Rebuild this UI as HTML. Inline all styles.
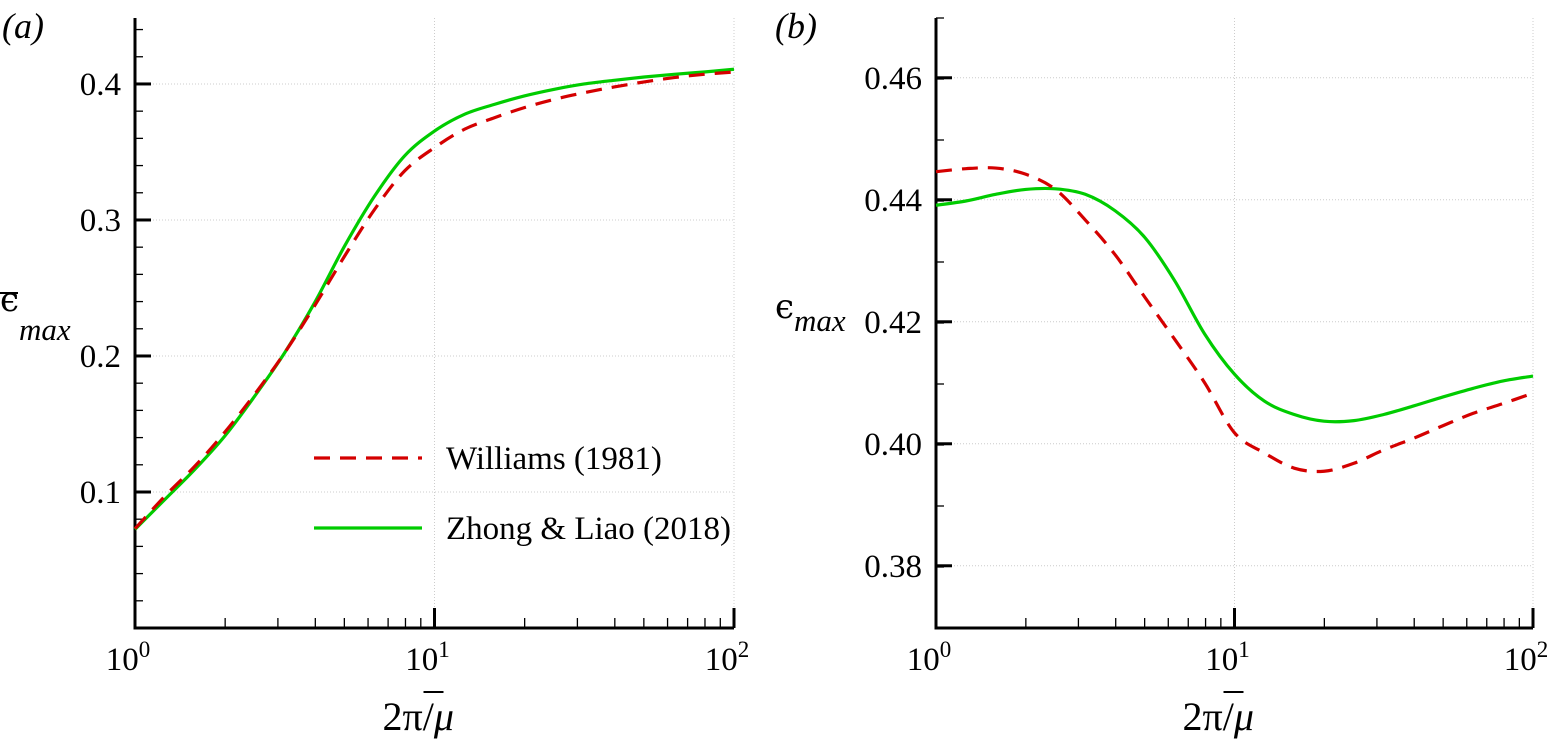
<!DOCTYPE html>
<html><head><meta charset="utf-8">
<style>
body{margin:0;background:#fff;}
svg{display:block;font-family:"Liberation Serif",serif;}
</style></head>
<body>
<svg id="chart" width="1555" height="742" viewBox="0 0 1555 742"></svg>
<script>
const xsA = [1, 1.259, 1.585, 1.995, 2.512, 3.162, 3.981, 5.012, 6.310, 7.943, 10, 12.59, 15.85, 19.95, 25.12, 31.62, 39.81, 50.12, 63.10, 79.43, 100];
const greenA = [0.0725, 0.0946, 0.1167, 0.1412, 0.1706, 0.2025, 0.2393, 0.2809, 0.3176, 0.3471, 0.3654, 0.3777, 0.3850, 0.3912, 0.3961, 0.4000, 0.4027, 0.4051, 0.4071, 0.4088, 0.4108];
const redA   = [0.0730, 0.0970, 0.1190, 0.1440, 0.1720, 0.2025, 0.2370, 0.2735, 0.3078, 0.3360, 0.3532, 0.3667, 0.3752, 0.3826, 0.3887, 0.3936, 0.3978, 0.4015, 0.4047, 0.4071, 0.4088];
const xsB = xsA;
const greenB = [0.4391, 0.4398, 0.4409, 0.4417, 0.4418, 0.4409, 0.4382, 0.4338, 0.4267, 0.4180, 0.4114, 0.4070, 0.4048, 0.4037, 0.4038, 0.4048, 0.4062, 0.4077, 0.4091, 0.4103, 0.4111];
const redB   = [0.4446, 0.4451, 0.4452, 0.4442, 0.4417, 0.4367, 0.4310, 0.4240, 0.4171, 0.4100, 0.4018, 0.3985, 0.3960, 0.3955, 0.3968, 0.3990, 0.4009, 0.4030, 0.4050, 0.4066, 0.4083];
const yTicksA = [0.1, 0.2, 0.3, 0.4];
const yTicksB = [0.38, 0.40, 0.42, 0.44, 0.46];
const xTickLabels = ["0", "1", "2"];

const NS = "http://www.w3.org/2000/svg";
const svg = document.getElementById("chart");
function el(tag, attrs, parent){const e=document.createElementNS(NS,tag);for(const k in attrs)e.setAttribute(k,attrs[k]);(parent||svg).appendChild(e);return e;}

function panel(cfg){
  const g = el("g",{});
  
  
  const X = v => cfg.x0 + Math.log10(v)/2*(cfg.x1-cfg.x0);
  const Y = v => cfg.yb - (v-cfg.ymin)/(cfg.ymax-cfg.ymin)*(cfg.yb-cfg.yt);
  cfg.yticks.forEach(t=>{
    const l=el("line",{x1:cfg.x0,x2:cfg.x1,y1:Y(t),y2:Y(t),stroke:"#ccc","stroke-width":1,"stroke-dasharray":"1,2"},g);
    
    
  });
  [10,100].forEach(v=>{
    const l=el("line",{x1:X(v),x2:X(v),y1:cfg.yt,y2:cfg.yb,stroke:"#ccc","stroke-width":1,"stroke-dasharray":"1,2"},g);
    
    
  });
  for(let v=cfg.ymin; v<=cfg.ymax+1e-9; v+=cfg.minor){
    const t=el("line",{x1:cfg.x0,x2:cfg.x0+8,y1:Y(v),y2:Y(v),stroke:"#000","stroke-width":1.3},g);
    
    
  }
  cfg.yticks.forEach(t=>{
    const tk=el("line",{x1:cfg.x0,x2:cfg.x0+16,y1:Y(t),y2:Y(t),stroke:"#000","stroke-width":3},g);
    
    
    const tx=el("text",{x:cfg.x0-14,y:Y(t)+11,"text-anchor":"end","font-size":33},g);
    tx.textContent=t.toFixed(cfg.dec);
    
    
  });
  for(let d=0; d<2; d++) for(let m=2;m<=9;m++){
    const v=m*Math.pow(10,d);
    const t=el("line",{x1:X(v),x2:X(v),y1:cfg.yb,y2:cfg.yb-10,stroke:"#000","stroke-width":1.3},g);
    
    
  }
  [1,10,100].forEach((v,i)=>{
    const t=el("line",{x1:X(v),x2:X(v),y1:cfg.yb,y2:cfg.yb-20,stroke:"#000","stroke-width":3},g);
    
    
    const tx=el("text",{x:X(v)-7,y:cfg.yb+42,"text-anchor":"middle","font-size":33},g);
    tx.textContent="10";
    
    
    const sp=el("tspan",{"font-size":23,dy:-13},tx);
    sp.textContent=xTickLabels[i];
  });
  const sp=el("path",{d:`M${cfg.x0},${cfg.yt} V${cfg.yb} H${cfg.x1}`,fill:"none",stroke:"#000","stroke-width":3},g);
  
  
  function curve(xs,ys,color,dash,name){
    const pts=xs.map((x,i)=>[X(x),Y(ys[i])]);
    let d=`M${pts[0][0]},${pts[0][1]}`;
    for(let i=0;i<pts.length-1;i++){
      const p0=pts[Math.max(0,i-1)],p1=pts[i],p2=pts[i+1],p3=pts[Math.min(pts.length-1,i+2)];
      const c1=[p1[0]+(p2[0]-p0[0])/6,p1[1]+(p2[1]-p0[1])/6];
      const c2=[p2[0]-(p3[0]-p1[0])/6,p2[1]-(p3[1]-p1[1])/6];
      d+=` C${c1[0]},${c1[1]} ${c2[0]},${c2[1]} ${p2[0]},${p2[1]}`;
    }
    const p=el("path",{d,fill:"none",stroke:color,"stroke-width":3.2},g);
    if(dash)p.setAttribute("stroke-dasharray",dash);
    
    
  }
  curve(cfg.gx,cfg.green,"#00cc00",null,'zhong-liao-curve');
  curve(cfg.rx,cfg.red,"#d40000","16,10",'williams-curve');
  const pl=el("text",{x:cfg.plx,y:38,"font-size":36,"font-style":"italic"},g);
  pl.textContent=cfg.plabel;
  
  
  const cx=(cfg.x0+cfg.x1)/2;
  const xl=el("text",{x:cx-52,y:730,"font-size":40},g);
  
  
  xl.textContent="2π/";
  const mu=el("tspan",{"font-style":"italic"},xl); mu.textContent="μ";
  const xb=el("line",{x1:cx-11,x2:cx+9,y1:692,y2:692,stroke:"#000","stroke-width":2},g);
  
  
  const eps=el("text",{x:cfg.ylx,y:cfg.epsy,"font-size":34,"font-family":"DejaVu Serif, serif"},g);
  eps.textContent="ϵ";
  
  
  const sub=el("text",{x:cfg.ylx+19,y:cfg.maxy,"font-size":31,"font-style":"italic"},g);
  sub.textContent="max";
  
  
  if(cfg.ybar){
    const yb=el("line",{x1:cfg.ylx,x2:cfg.ylx+18,y1:293,y2:293,stroke:"#000","stroke-width":2},g);
    
    
  }
  return {X,Y,g};
}

panel({name:'panel-a',x0:135,x1:734,yt:18,yb:628,ymin:0,ymax:0.4485,minor:0.02,yticks:yTicksA,dec:1,
  rx:xsA,red:redA,gx:xsA,green:greenA,plabel:"(a)",plx:2,ylx:0,epsy:311,maxy:340,ybar:true});
panel({name:'panel-b',x0:936,x1:1533,yt:18,yb:628,ymin:0.3698,ymax:0.4698,minor:0.01,yticks:yTicksB,dec:2,
  rx:xsB,red:redB,gx:xsB,green:greenB,plabel:"(b)",plx:775,ylx:775,epsy:318,maxy:331,ybar:false});

const lg=el("g",{});


const l1=el("line",{x1:314,x2:422,y1:458,y2:458,stroke:"#d40000","stroke-width":3.2,"stroke-dasharray":"16,10"},lg);


const t1=el("text",{x:446,y:469,"font-size":33},lg); t1.textContent="Williams (1981)";


const l2=el("line",{x1:314,x2:422,y1:528,y2:528,stroke:"#00cc00","stroke-width":3.2},lg);


const t2=el("text",{x:446,y:539,"font-size":33},lg); t2.textContent="Zhong & Liao (2018)";


</script>
</body></html>
